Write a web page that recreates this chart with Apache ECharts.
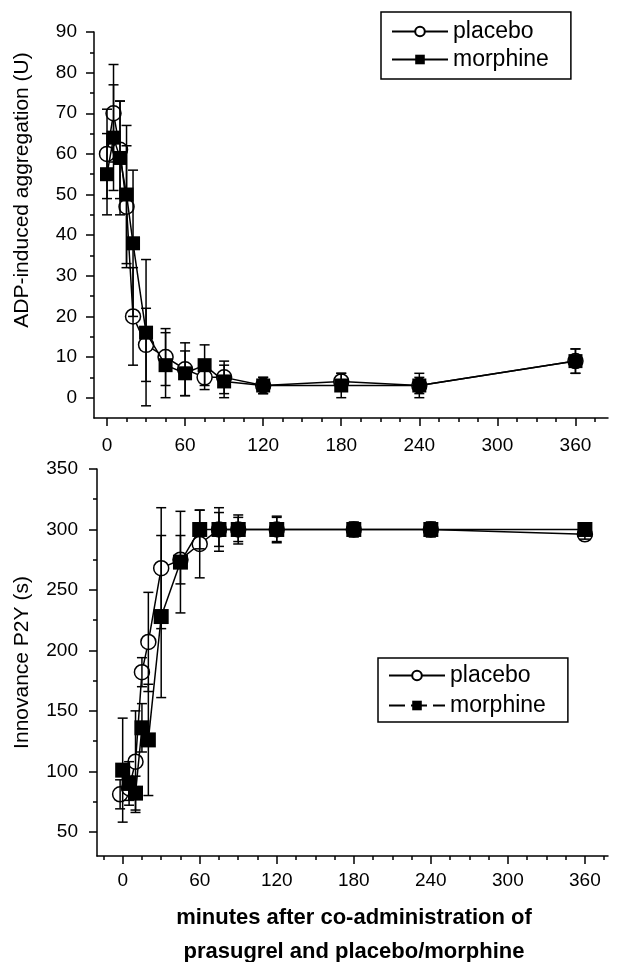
<!DOCTYPE html>
<html>
<head>
<meta charset="utf-8">
<script src="https://cdn.jsdelivr.net/npm/echarts@6/dist/echarts.min.js"></script>
<style>
html, body { margin: 0; padding: 0; background: #fff; }
#chart { width: 619px; height: 962px; }
</style>
</head>
<body>
<div id="chart"></div>
<script>
// time points (minutes)
var times = [0, 5, 10, 15, 20, 30, 45, 60, 75, 90, 120, 180, 240, 360];
var p2yPlaceboTimes = [-2, 5, 10, 15, 20, 30, 45, 60, 75, 90, 120, 180, 240, 360];

// upper panel: ADP-induced aggregation (U)
var adpPlacebo = [60, 70, 61, 47, 20, 13, 10, 7, 5, 5, 3, 4, 3, 9];
var adpPlaceboErr = [11, 12, 12, 15, 12, 9, 7, 6.5, 3, 4, 2, 2, 2, 3];
var adpMorphine = [55, 64, 59, 50, 38, 16, 8, 6, 8, 4, 3, 3, 3, 9];
var adpMorphineErr = [10, 13, 14, 17, 18, 18, 8, 5.5, 5, 4, 2, 3, 3, 3];

// lower panel: Innovance P2Y (s)
var p2yPlacebo = [81, 86, 108, 182, 207, 268, 275, 288, 300, 300, 300, 300, 300, 296];
var p2yPlaceboErr = [12, 10, 42, 12, 41, 50, 20, 28, 18, 12, 10, 6, 6, 4];
var p2yMorphine = [101, 90, 82, 136, 126, 228, 273, 300, 300, 300, 300, 300, 300, 300];
var p2yMorphineErr = [43, 18, 14, 20, 46, 67, 42, 16, 14, 10, 11, 6, 6, 5];

// ticks
var xMajor = [0, 60, 120, 180, 240, 300, 360];
var xMinor = [-15, 15, 30, 45, 75, 90, 105, 135, 150, 165, 195, 210, 225, 255, 270, 285, 315, 330, 345, 375];
var adpMajor = [0, 10, 20, 30, 40, 50, 60, 70, 80, 90];
var adpMinor = [5, 15, 25, 35, 45, 55, 65, 75, 85];
var p2yMajor = [50, 100, 150, 200, 250, 300, 350];
var p2yMinor = [75, 125, 175, 225, 275, 325];

var font = "'Liberation Sans', Arial, sans-serif";

var chart = echarts.init(document.getElementById('chart'));

function pairs(t, v) {
    return t.map(function(x, i) { return [x, v[i]]; });
}

function errBars(axis, t, v, e) {
    return {
        type: 'custom',
        xAxisIndex: axis,
        yAxisIndex: axis,
        z: 3,
        silent: true,
        encode: { x: 0, y: [1, 2] },
        data: t.map(function(x, i) { return [x, v[i] - e[i], v[i] + e[i]]; }),
        renderItem: function(params, api) {
            var lo = api.coord([api.value(0), api.value(1)]);
            var hi = api.coord([api.value(0), api.value(2)]);
            var w = 5;
            var st = { stroke: '#000', lineWidth: 1.5 };
            return {
                type: 'group',
                children: [
                    { type: 'line', shape: { x1: lo[0], y1: lo[1], x2: hi[0], y2: hi[1] }, style: st },
                    { type: 'line', shape: { x1: lo[0] - w, y1: lo[1], x2: lo[0] + w, y2: lo[1] }, style: st },
                    { type: 'line', shape: { x1: hi[0] - w, y1: hi[1], x2: hi[0] + w, y2: hi[1] }, style: st }
                ]
            };
        }
    };
}

function majorAxis(grid, min, max, ticks, extra) {
    var a = {
        type: 'value',
        gridIndex: grid,
        min: min,
        max: max,
        axisLine: { show: true, onZero: false, lineStyle: { color: '#000', width: 1.5 } },
        axisTick: { show: true, customValues: ticks, length: 8, lineStyle: { color: '#000', width: 1.5 } },
        axisLabel: { customValues: ticks, color: '#000', fontSize: 19, fontFamily: font },
        splitLine: { show: false }
    };
    for (var k in extra) a[k] = extra[k];
    return a;
}

function minorAxis(grid, min, max, ticks, pos) {
    return {
        type: 'value',
        gridIndex: grid,
        min: min,
        max: max,
        position: pos,
        axisLine: { show: false, onZero: false },
        axisTick: { show: true, customValues: ticks, length: 4, lineStyle: { color: '#000', width: 1.5 } },
        axisLabel: { show: false },
        splitLine: { show: false }
    };
}

var legendBase = {
    orient: 'vertical',
    itemWidth: 56,
    itemHeight: 12,
    borderColor: '#000',
    borderWidth: 1.5,
    textStyle: { color: '#000', fontSize: 23, fontFamily: font }
};

var option = {
    backgroundColor: '#fff',
    animation: false,
    grid: [
        { left: 94, top: 32, width: 514, height: 386, outerBoundsMode: 'none', containLabel: false },
        { left: 97, top: 469, width: 511, height: 387, outerBoundsMode: 'none', containLabel: false }
    ],
    graphic: [
        {
            type: 'text',
            x: 22, y: 190,
            rotation: Math.PI / 2,
            style: {
                text: 'ADP-induced aggregation (U)',
                fill: '#000',
                font: "21px 'Liberation Sans', Arial, sans-serif",
                align: 'center',
                verticalAlign: 'middle'
            }
        },
        {
            type: 'text',
            x: 354, y: 935,
            style: {
                text: 'minutes after co-administration of\nprasugrel and placebo/morphine',
                fill: '#000',
                font: "bold 22px 'Liberation Sans', Arial, sans-serif",
                lineHeight: 34,
                align: 'center',
                verticalAlign: 'middle'
            }
        }
    ],
    xAxis: [
        majorAxis(0, -10, 385, xMajor, { position: 'bottom', axisLabel: { customValues: xMajor, color: '#000', fontSize: 19, fontFamily: font, margin: 18 } }),
        minorAxis(0, -10, 385, xMinor, 'bottom'),
        majorAxis(1, -20, 378, xMajor, { position: 'bottom', axisLabel: { customValues: xMajor, color: '#000', fontSize: 19, fontFamily: font, margin: 15 } }),
        minorAxis(1, -20, 378, xMinor, 'bottom')
    ],
    yAxis: [
        majorAxis(0, -5, 90, adpMajor, {
            position: 'left',
            axisLabel: { customValues: adpMajor, color: '#000', fontSize: 19, fontFamily: font, margin: 17 }
        }),
        minorAxis(0, -5, 90, adpMinor, 'left'),
        majorAxis(1, 30, 350, p2yMajor, {
            position: 'left',
            axisLabel: { customValues: p2yMajor, color: '#000', fontSize: 19, fontFamily: font, margin: 19 },
            name: 'Innovance P2Y (s)',
            nameLocation: 'middle',
            nameGap: 64,
            nameTextStyle: { color: '#000', fontSize: 21, fontFamily: font }
        }),
        minorAxis(1, 30, 350, p2yMinor, 'left')
    ],
    legend: [
        Object.assign({}, legendBase, {
            left: 381,
            top: 12,
            data: ['placebo', 'morphine'],
            itemGap: 5,
            padding: [8, 22, 8, 10]
        }),
        Object.assign({}, legendBase, {
            left: 378,
            top: 658,
            data: ['placebo', { name: 'morphine', lineStyle: { type: [16, 6] } }],
            itemGap: 7,
            padding: [6, 22, 5, 10]
        })
    ],
    series: [
        {
            name: 'placebo',
            type: 'line',
            xAxisIndex: 0, yAxisIndex: 0,
            data: pairs(times, adpPlacebo),
            symbol: 'circle', symbolSize: 15,
            itemStyle: { color: '#fff', borderColor: '#000', borderWidth: 1.5 },
            lineStyle: { color: '#000', width: 1.5 },
            z: 2
        },
        errBars(0, times, adpPlacebo, adpPlaceboErr),
        {
            name: 'morphine',
            type: 'line',
            xAxisIndex: 0, yAxisIndex: 0,
            data: pairs(times, adpMorphine),
            symbol: 'rect', symbolSize: 14,
            itemStyle: { color: '#000' },
            lineStyle: { color: '#000', width: 1.5 },
            z: 4
        },
        errBars(0, times, adpMorphine, adpMorphineErr),
        {
            name: 'placebo',
            type: 'line',
            xAxisIndex: 2, yAxisIndex: 2,
            data: pairs(p2yPlaceboTimes, p2yPlacebo),
            symbol: 'circle', symbolSize: 15,
            itemStyle: { color: '#fff', borderColor: '#000', borderWidth: 1.5 },
            lineStyle: { color: '#000', width: 1.5 },
            z: 2
        },
        errBars(2, p2yPlaceboTimes, p2yPlacebo, p2yPlaceboErr),
        {
            name: 'morphine',
            type: 'line',
            xAxisIndex: 2, yAxisIndex: 2,
            data: pairs(times, p2yMorphine),
            symbol: 'rect', symbolSize: 15,
            itemStyle: { color: '#000' },
            lineStyle: { color: '#000', width: 1.5 },
            z: 4
        },
        errBars(2, times, p2yMorphine, p2yMorphineErr)
    ]
};

chart.setOption(option);
</script>
</body>
</html>
